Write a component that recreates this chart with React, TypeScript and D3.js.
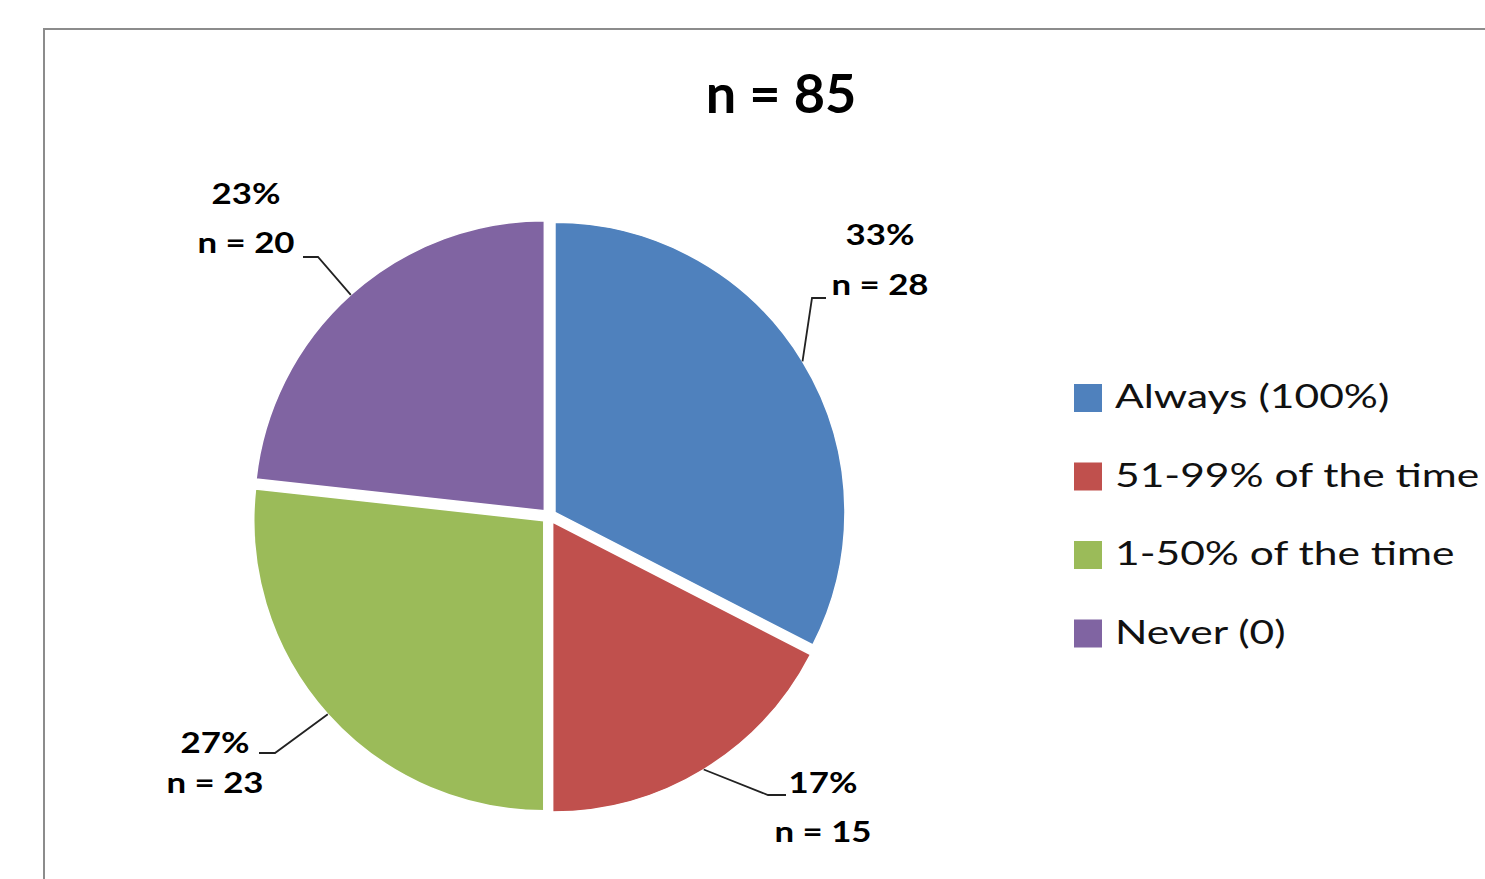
import React from "react";
import * as d3 from "d3";

const categories = ["Always (100%)", "51-99% of the time", "1-50% of the time", "Never (0)"];
const counts = [28, 15, 23, 20];
const percentLabels = ["33%", "17%", "27%", "23%"];
const countLabels = ["n = 28", "n = 15", "n = 23", "n = 20"];
const colors = ["#4F81BD", "#C0504D", "#9BBB59", "#8064A2"];
const title = "n = 85";

// layout of data labels (text centre x, two baselines, leader elbow & end)
const labelLayout = [
  { x: 880, y1: 245, y2: 295, elbow: [812, 298], end: [826, 298] },
  { x: 823, y1: 793, y2: 842, elbow: [768, 795], end: [786, 795] },
  { x: 215, y1: 753, y2: 793, elbow: [275, 753], end: [259, 753] },
  { x: 246, y1: 204, y2: 253, elbow: [318, 257], end: [303, 257] },
];

const W = 1485;
const H = 879;
const cx = 549;
const cy = 516;
const R = 290;
const explode = 7;
const labelScale = 1.2;
const legendScale = 1.33;

export default function App() {
  const pie = d3.pie<number>().sort(null).value((d) => d);
  const arcs = pie(counts);
  const arcGen = d3.arc<d3.PieArcDatum<number>>().innerRadius(0).outerRadius(R);

  return (
    <svg
      width={W}
      height={H}
      style={{ position: "absolute", left: 0, top: 0, background: "#fff" }}
    >
      <rect x={0} y={0} width={W} height={H} fill="#fff" />
      <rect x={44} y={29} width={W} height={H} fill="#fff" stroke="#8c8c8c" strokeWidth={2} />
      <text
        x={781}
        y={113}
        textAnchor="middle"
        fontFamily="Lato"
        fontWeight="bold"
        fontSize={54}
        fill="#000"
      >
        {title}
      </text>
      <g transform={`translate(${cx},${cy})`}>
        {arcs.map((a, i) => {
          const mid = (a.startAngle + a.endAngle) / 2;
          const dx = Math.sin(mid) * explode;
          const dy = -Math.cos(mid) * explode;
          return (
            <path
              key={i}
              d={arcGen(a) || ""}
              transform={`translate(${dx},${dy})`}
              fill={colors[i]}
              stroke="#fff"
              strokeWidth={1.5}
            />
          );
        })}
      </g>
      {arcs.map((a, i) => {
        const mid = (a.startAngle + a.endAngle) / 2;
        const sx = cx + Math.sin(mid) * (R + explode);
        const sy = cy - Math.cos(mid) * (R + explode);
        const L = labelLayout[i];
        const pts: [number, number][] = [[sx, sy], [L.elbow[0], L.elbow[1]], [L.end[0], L.end[1]]];
        const line = d3.line()(pts) || "";
        return (
          <g key={i}>
            <path d={line} fill="none" stroke="#222" strokeWidth={1.8} />
            <text
              transform={`translate(${L.x},${L.y1}) scale(${labelScale},1)`}
              textAnchor="middle"
              fontFamily="Lato"
              fontWeight="bold"
              fontSize={29}
              fill="#000"
            >
              {percentLabels[i]}
            </text>
            <text
              transform={`translate(${L.x},${L.y2}) scale(${labelScale},1)`}
              textAnchor="middle"
              fontFamily="Lato"
              fontWeight="bold"
              fontSize={29}
              fill="#000"
            >
              {countLabels[i]}
            </text>
          </g>
        );
      })}
      {categories.map((c, i) => {
        const y = 384 + i * 78.5;
        return (
          <g key={c}>
            <rect x={1074} y={y} width={28} height={28} fill={colors[i]} />
            <text
              transform={`translate(1115,${y + 24}) scale(${legendScale},1)`}
              fontFamily="Lato"
              fontSize={32}
              fill="#111"
            >
              {c}
            </text>
          </g>
        );
      })}
    </svg>
  );
}
